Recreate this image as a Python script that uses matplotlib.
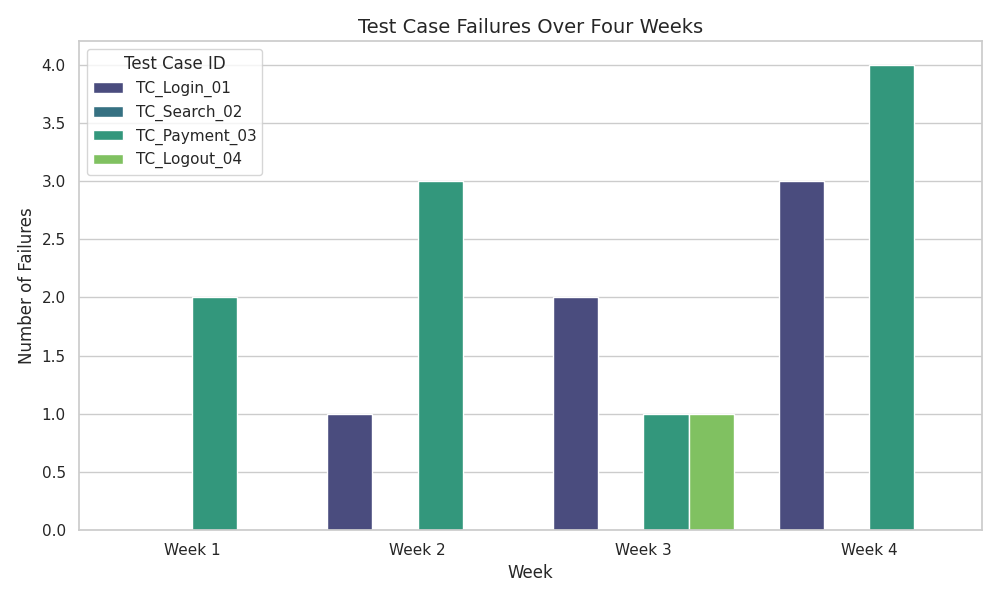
import pandas as pd
import seaborn as sns
import matplotlib
matplotlib.use("Agg")
import matplotlib.pyplot as plt

weeks = ["Week 1", "Week 2", "Week 3", "Week 4"]
test_cases = ["TC_Login_01", "TC_Search_02", "TC_Payment_03", "TC_Logout_04"]
failures = {
    "TC_Login_01": [0, 1, 2, 3],
    "TC_Search_02": [0, 0, 0, 0],
    "TC_Payment_03": [2, 3, 1, 4],
    "TC_Logout_04": [0, 0, 1, 0],
}

rows = []
for tc in test_cases:
    for w, v in zip(weeks, failures[tc]):
        rows.append({"Week": w, "Test Case ID": tc, "Failures": v})
df = pd.DataFrame(rows)

sns.set_theme(style="whitegrid")
plt.figure(figsize=(10, 6))
sns.barplot(data=df, x="Week", y="Failures", hue="Test Case ID",
            order=weeks, hue_order=test_cases, palette="viridis")
plt.title("Test Case Failures Over Four Weeks", fontsize=14)
plt.xlabel("Week", fontsize=12)
plt.ylabel("Number of Failures", fontsize=12)
plt.legend(title="Test Case ID", loc="upper left")
plt.tight_layout()
plt.savefig("out.png", dpi=100)
